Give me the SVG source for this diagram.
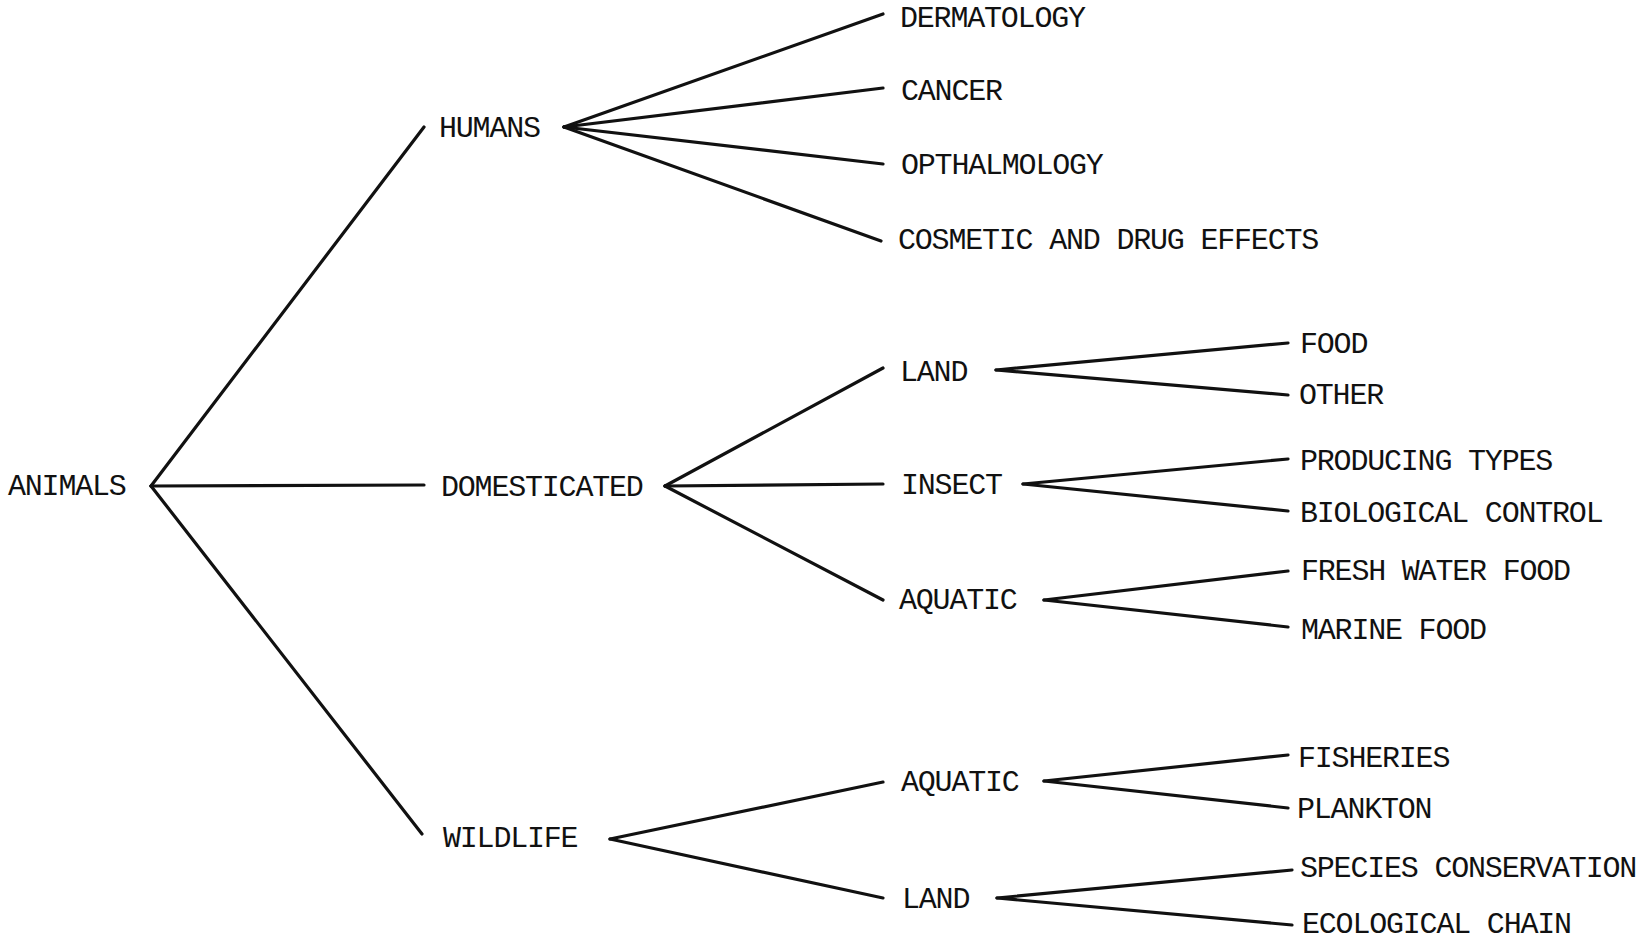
<svg xmlns="http://www.w3.org/2000/svg" width="1646" height="939" viewBox="0 0 1646 939">
<style>
text{font-family:"Liberation Mono","DejaVu Sans Mono",monospace;font-size:30px;letter-spacing:-1.2px;fill:#111}
.c line{stroke:#111;stroke-width:3.2;stroke-linecap:round}
</style>
<rect width="1646" height="939" fill="#fff"/>
<g class="c" id="connectors">
<line x1="151" y1="486" x2="424" y2="127"/>
<line x1="151" y1="486" x2="424" y2="485"/>
<line x1="151" y1="486" x2="422" y2="834"/>
<line x1="564" y1="127" x2="883" y2="14"/>
<line x1="564" y1="127" x2="883" y2="88"/>
<line x1="564" y1="127" x2="883" y2="164"/>
<line x1="564" y1="127" x2="881" y2="241"/>
<line x1="665" y1="486" x2="883" y2="368"/>
<line x1="665" y1="486" x2="883" y2="484"/>
<line x1="665" y1="486" x2="883" y2="600"/>
<line x1="996" y1="370" x2="1288" y2="343"/>
<line x1="996" y1="370" x2="1288" y2="395"/>
<line x1="1023" y1="484" x2="1288" y2="459"/>
<line x1="1023" y1="484" x2="1288" y2="511"/>
<line x1="1044" y1="600" x2="1288" y2="571"/>
<line x1="1044" y1="600" x2="1288" y2="627"/>
<line x1="610" y1="839" x2="883" y2="782"/>
<line x1="610" y1="839" x2="883" y2="898"/>
<line x1="1044" y1="781" x2="1288" y2="755"/>
<line x1="1044" y1="781" x2="1288" y2="808"/>
<line x1="997" y1="898" x2="1292" y2="870"/>
<line x1="997" y1="898" x2="1292" y2="925"/>
</g>
<g id="animals"><text x="8" y="495">ANIMALS</text></g>
<g id="humans"><text x="439" y="137">HUMANS</text></g>
<g id="domesticated"><text x="441" y="496">DOMESTICATED</text></g>
<g id="wildlife"><text x="443" y="847">WILDLIFE</text></g>
<g id="dermatology"><text x="900" y="27">DERMATOLOGY</text></g>
<g id="cancer"><text x="901" y="100">CANCER</text></g>
<g id="opthalmology"><text x="901" y="174">OPTHALMOLOGY</text></g>
<g id="cosmetic"><text x="898" y="249">COSMETIC AND DRUG EFFECTS</text></g>
<g id="dom-land"><text x="900" y="381">LAND</text></g>
<g id="dom-insect"><text x="901" y="494">INSECT</text></g>
<g id="dom-aquatic"><text x="899" y="609">AQUATIC</text></g>
<g id="food"><text x="1300" y="353">FOOD</text></g>
<g id="other"><text x="1299" y="404">OTHER</text></g>
<g id="producing"><text x="1300" y="470">PRODUCING TYPES</text></g>
<g id="biological"><text x="1300" y="522">BIOLOGICAL CONTROL</text></g>
<g id="freshwater"><text x="1301" y="580">FRESH WATER FOOD</text></g>
<g id="marine"><text x="1301" y="639">MARINE FOOD</text></g>
<g id="wild-aquatic"><text x="901" y="791">AQUATIC</text></g>
<g id="wild-land"><text x="902" y="908">LAND</text></g>
<g id="fisheries"><text x="1298" y="767">FISHERIES</text></g>
<g id="plankton"><text x="1297" y="818">PLANKTON</text></g>
<g id="species"><text x="1300" y="877">SPECIES CONSERVATION</text></g>
<g id="ecological"><text x="1302" y="933">ECOLOGICAL CHAIN</text></g>
</svg>
